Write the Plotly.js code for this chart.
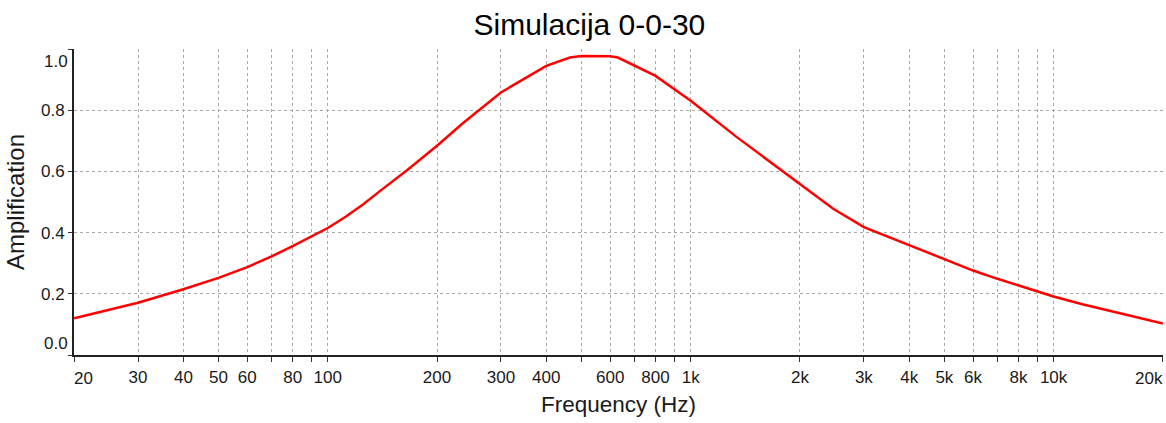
<!DOCTYPE html>
<html>
<head>
<meta charset="utf-8">
<script src="https://cdn.plot.ly/plotly-3.0.1.min.js"></script>
<style>html,body{margin:0;padding:0;background:#fff;}#chart{width:1166px;height:423px;}</style>
</head>
<body>
<div id="chart"></div>
<script>
const freq = [20,30,40,50,60,70,80,90,100,112,125,140,165,200,236,300,400,465,500,600,630,800,1000,1340,2000,2470,3000,4000,5000,6000,7000,8000,9000,10000,12000,15000,17800,20000];
const amp  = [0.12,0.171,0.215,0.252,0.287,0.322,0.356,0.388,0.415,0.452,0.492,0.538,0.603,0.684,0.758,0.858,0.945,0.972,0.977,0.976,0.972,0.912,0.831,0.712,0.557,0.478,0.418,0.359,0.312,0.276,0.249,0.227,0.208,0.191,0.166,0.138,0.117,0.103];

const xTickVals = [20,30,40,50,60,70,80,90,100,200,300,400,500,600,700,800,900,1000,2000,3000,4000,5000,6000,7000,8000,9000,10000,20000];
const xTickText = ['','30','40','50','60','','80','','100','200','300','400','','600','','800','','1k','2k','3k','4k','5k','6k','','8k','','10k',''];
const xEndLabels = ['20','20k'];
const yTickVals = [0,0.2,0.4,0.6,0.8,1.0];
const yTickText = ['','0.2','0.4','0.6','0.8',''];
const yEndLabels = ['0.0','1.0'];

const font = "'Liberation Sans', Arial, sans-serif";
const tickSize = 17;
const tickFont = {family: font, size: tickSize, color: '#1a1a1a'};

const trace = {
  x: freq, y: amp, type: 'scatter', mode: 'lines',
  line: {color: '#ff0000', width: 2.5},
  hoverinfo: 'skip'
};

const layout = {
  width: 1166, height: 423,
  margin: {l: 74, r: 3, t: 49, b: 68},
  paper_bgcolor: '#ffffff', plot_bgcolor: '#ffffff',
  showlegend: false,
  font: {family: font, color: '#1a1a1a', size: tickSize},
  title: {text: 'Simulacija 0-0-30', font: {family: font, size: 30, color: '#000'}, x: 0.5055, xanchor: 'center', y: 0.942, yanchor: 'middle'},
  xaxis: {
    type: 'log',
    range: [Math.log10(20) - 0.0004, Math.log10(20000) + 0.0004],
    tickmode: 'array', tickvals: xTickVals, ticktext: xTickText,
    ticks: 'outside', ticklen: 5, tickwidth: 1, tickcolor: '#333',
    ticklabelstandoff: 1,
    showline: true, linecolor: '#222', linewidth: 2,
    showgrid: true, gridcolor: '#a8a8a8', gridwidth: 1, griddash: '3px,3px',
    zeroline: false,
    tickfont: tickFont,
    title: {text: 'Frequency (Hz)', font: {family: font, size: 22.5, color: '#1a1a1a'}, standoff: 10}
  },
  yaxis: {
    range: [0, 1],
    tickmode: 'array', tickvals: yTickVals, ticktext: yTickText,
    ticks: 'outside', ticklen: 4, tickwidth: 1, tickcolor: '#333',
    showline: true, linecolor: '#222', linewidth: 2,
    showgrid: true, gridcolor: '#a8a8a8', gridwidth: 1, griddash: '3px,3px',
    zeroline: false,
    tickfont: tickFont,
    title: {text: 'Amplification', font: {family: font, size: 24, color: '#1a1a1a'}, standoff: 10}
  },
  annotations: [
    {xref: 'paper', yref: 'y', x: 0, y: 0, text: yEndLabels[0], showarrow: false, xanchor: 'right', yanchor: 'middle', xshift: -4, yshift: 12, font: tickFont},
    {xref: 'paper', yref: 'y', x: 0, y: 1, text: yEndLabels[1], showarrow: false, xanchor: 'right', yanchor: 'middle', xshift: -4, yshift: -12, font: tickFont},
    {xref: 'x', yref: 'paper', x: Math.log10(20), y: 0, text: xEndLabels[0], showarrow: false, xanchor: 'left', yanchor: 'middle', xshift: -2, yshift: -23, font: tickFont},
    {xref: 'x', yref: 'paper', x: Math.log10(20000), y: 0, text: xEndLabels[1], showarrow: false, xanchor: 'right', yanchor: 'middle', xshift: 2, yshift: -23, font: tickFont}
  ]
};

Plotly.newPlot('chart', [trace], layout, {staticPlot: true, displayModeBar: false});
</script>
</body>
</html>
